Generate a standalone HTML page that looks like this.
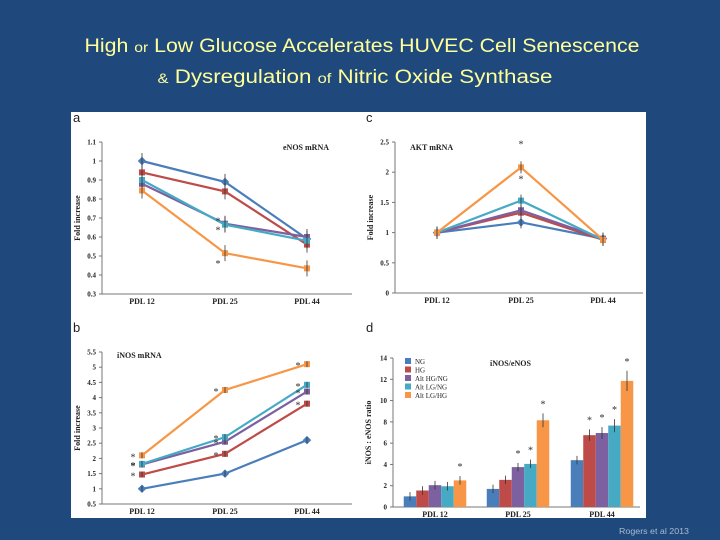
<!DOCTYPE html>
<html><head><meta charset="utf-8"><style>
html,body{margin:0;padding:0;background:#1f497d;}
svg{display:block;font-family:"Liberation Sans",sans-serif;}
.ax{stroke:#777;stroke-width:1;fill:none}
.tk{font-family:"Liberation Serif",serif;font-size:7px;font-weight:bold;fill:#222}
.cat{font-family:"Liberation Serif",serif;font-size:8px;font-weight:bold;fill:#222}
.st{font-family:"Liberation Serif",serif;font-size:10px;fill:#333}
</style></head><body>
<svg id="s" width="720" height="540" viewBox="0 0 720 540">
<rect width="720" height="540" fill="#1f497d"/>
<text x="362" y="52" text-anchor="middle" fill="#ffff99" font-size="19" textLength="555" lengthAdjust="spacingAndGlyphs">High <tspan font-size="14">or</tspan> Low Glucose Accelerates HUVEC Cell Senescence</text>
<text x="355" y="83" text-anchor="middle" fill="#ffff99" font-size="19" textLength="395" lengthAdjust="spacingAndGlyphs"><tspan font-size="14">&amp;</tspan> Dysregulation <tspan font-size="14">of</tspan> Nitric Oxide Synthase</text>
<rect x="71" y="112" width="575" height="406" fill="#fff"/>
<text x="619" y="534" fill="#aabbd0" font-size="8.5" textLength="70" lengthAdjust="spacingAndGlyphs">Rogers et al 2013</text>
<g id="g"></g>
</svg>
<script>
const colors=["#4a7ebb","#be4b48","#7d60a0","#46aac5","#f79646"];
const seriesNames=["NG","HG","Alt HG/NG","Alt LG/NG","Alt LG/HG"];
const categories=["PDL 12","PDL 25","PDL 44"];
const enosNG=[1.0,0.89,0.59];
const enosHG=[0.94,0.84,0.56];
const enosAltHGNG=[0.88,0.67,0.60];
const enosAltLGNG=[0.90,0.665,0.58];
const enosAltLGHG=[0.845,0.515,0.435];
const enosTicks=["0.3","0.4","0.5","0.6","0.7","0.8","0.9","1","1.1"];
const aktNG=[1,1.17,0.9];
const aktHG=[1,1.33,0.88];
const aktAltHGNG=[1,1.37,0.9];
const aktAltLGNG=[1,1.53,0.88];
const aktAltLGHG=[1,2.08,0.88];
const aktTicks=["0","0.5","1","1.5","2","2.5"];
const inosNG=[1.0,1.5,2.6];
const inosHG=[1.47,2.15,3.8];
const inosAltHGNG=[1.8,2.55,4.2];
const inosAltLGNG=[1.82,2.7,4.42];
const inosAltLGHG=[2.1,4.25,5.1];
const inosTicks=["0.5","1","1.5","2","2.5","3","3.5","4","4.5","5","5.5"];
const ratioNG=[1.0,1.7,4.4];
const ratioHG=[1.55,2.55,6.75];
const ratioAltHGNG=[2.05,3.75,6.95];
const ratioAltLGNG=[1.95,4.05,7.65];
const ratioAltLGHG=[2.5,8.15,11.85];
const ratioTicks=["0","2","4","6","8","10","12","14"];

const G=document.getElementById('g');const NS="http://www.w3.org/2000/svg";
function mk(t,a,p){const e=document.createElementNS(NS,t);for(const k in a)e.setAttribute(k,a[k]);(p||G).appendChild(e);return e;}
function txt(x,y,s,cls,anchor,p){const e=mk('text',{x:x,y:y,class:cls,'text-anchor':anchor||'middle'},p);e.textContent=s;return e;}
function star(x,y,p){const s=txt(x,y,'*','st','middle',p);}

function panel(cfg){
  const g=mk('g',{});
  
  
  const ticks=cfg.ticks.map(Number);const min=ticks[0],max=ticks[ticks.length-1];
  const Y=v=>cfg.y0+(v-min)/(max-min)*(cfg.y1-cfg.y0);
  const X=i=>cfg.cx[i];
  mk('line',{x1:cfg.ax,y1:cfg.y0,x2:cfg.ax,y2:cfg.y1,class:'ax'},g);
  mk('line',{x1:cfg.ax,y1:cfg.y0,x2:cfg.axr,y2:cfg.y0,class:'ax'},g);
  cfg.ticks.forEach(t=>{const y=Y(+t);mk('line',{x1:cfg.ax-3,y1:y,x2:cfg.ax,y2:y,class:'ax'},g);
    const l=txt(cfg.ax-6,y+2.5,t,'tk','end',g);});
  categories.forEach((c,i)=>{const l=txt(X(i),cfg.y0+10,c,'cat','middle',g);});
  const yt=txt(0,0,cfg.ylab,'cat','middle',g);yt.setAttribute('transform',`translate(${cfg.ax-22},${(cfg.y0+cfg.y1)/2}) rotate(-90)`);
  
  const pt=txt(cfg.tx,cfg.ty,cfg.title,'cat','start',g);
  const pl=txt(cfg.lx,cfg.ly,cfg.letter,'','start',g);pl.setAttribute('font-size','13');pl.setAttribute('fill','#222');
  
  return {g,X,Y};
}
function linePanel(cfg,series){
  const r=panel(cfg);const {g,X,Y}=r;
  series.forEach((vals,si)=>{
    const pts=vals.map((v,i)=>X(i)+','+Y(v)).join(' ');
    const pl=mk('polyline',{points:pts,fill:'none',stroke:colors[si],'stroke-width':2.2},g);
    
    
    vals.forEach((v,i)=>{
      const m=mk('rect',{x:X(i)-3,y:Y(v)-3,width:6,height:6,fill:colors[si],transform:si==0?`rotate(45 ${X(i)} ${Y(v)})`:''},g);
      
      
      mk('line',{x1:X(i),y1:Y(v)-cfg.err,x2:X(i),y2:Y(v)+cfg.err,stroke:'#333','stroke-width':0.8},g);
    });
  });
  return r;
}
const A=linePanel({name:'enos-chart',ticks:enosTicks,y0:294,y1:142,ax:102,axr:352,cx:[142,225,307],ylab:'Fold increase',title:'eNOS mRNA',tx:283,ty:150,letter:'a',lx:73,ly:122,err:8},
  [enosNG,enosHG,enosAltHGNG,enosAltLGNG,enosAltLGHG]);
star(A.X(1)-7,A.Y(enosAltHGNG[1])+1,A.g);star(A.X(1)-7,A.Y(enosAltLGNG[1])+9,A.g);star(A.X(1)-7,A.Y(enosAltLGHG[1])+14,A.g);
const C=linePanel({name:'akt-chart',ticks:aktTicks,y0:293,y1:142,ax:395,axr:643,cx:[437,521,603],ylab:'Fold increase',title:'AKT mRNA',tx:410,ty:150,letter:'c',lx:366,ly:122,err:6},
  [aktNG,aktHG,aktAltHGNG,aktAltLGNG,aktAltLGHG]);
star(C.X(1),C.Y(aktAltLGHG[1])-20,C.g);star(C.X(1),C.Y(aktAltLGNG[1])-18,C.g);
const B=linePanel({name:'inos-chart',ticks:inosTicks,y0:504,y1:352,ax:102,axr:352,cx:[142,225,307],ylab:'Fold increase',title:'iNOS mRNA',tx:117,ty:358,letter:'b',lx:73,ly:332,err:3},
  [inosNG,inosHG,inosAltHGNG,inosAltLGNG,inosAltLGHG]);
[inosHG,inosAltHGNG,inosAltLGNG,inosAltLGHG].forEach(s=>{[0,1,2].forEach(i=>star(B.X(i)-9,B.Y(s[i])+5,B.g));});
(function(){
  const cfg={name:'inos-enos-ratio-chart',ticks:ratioTicks,y0:507,y1:358,ax:393,axr:640,cx:[435,518,602],ylab:'iNOS : eNOS ratio',title:'iNOS/eNOS',tx:490,ty:366,letter:'d',lx:366,ly:332};
  const {g,X,Y}=panel(cfg);
  const series=[ratioNG,ratioHG,ratioAltHGNG,ratioAltLGNG,ratioAltLGHG];
  const bw=12.5;
  series.forEach((vals,si)=>{
    vals.forEach((v,i)=>{
      const x=X(i)-2.5*bw+si*bw;
      const r=mk('rect',{x:x,y:Y(v),width:bw,height:Y(0)-Y(v),fill:colors[si]},g);
      
      
      const e=Math.max(0.4,v*0.08);
      mk('line',{x1:x+bw/2,y1:Y(v+e),x2:x+bw/2,y2:Y(v-e),stroke:'#333','stroke-width':0.8},g);
      if((si==4)||(i>0&&si>=2)||(i==2&&si==1)) star(x+bw/2,Y(v+e)-6,g);
    });
    const ly=361+si*8.5;
    const lr=mk('rect',{x:405,y:ly-3,width:6,height:6,fill:colors[si]},g);
    
    
    const lt=txt(415,ly+3,seriesNames[si],'','start',g);
    lt.setAttribute('font-family','Liberation Serif');lt.setAttribute('font-size','7');lt.setAttribute('fill','#222');
    
    
  });
})();
</script>
</body></html>
